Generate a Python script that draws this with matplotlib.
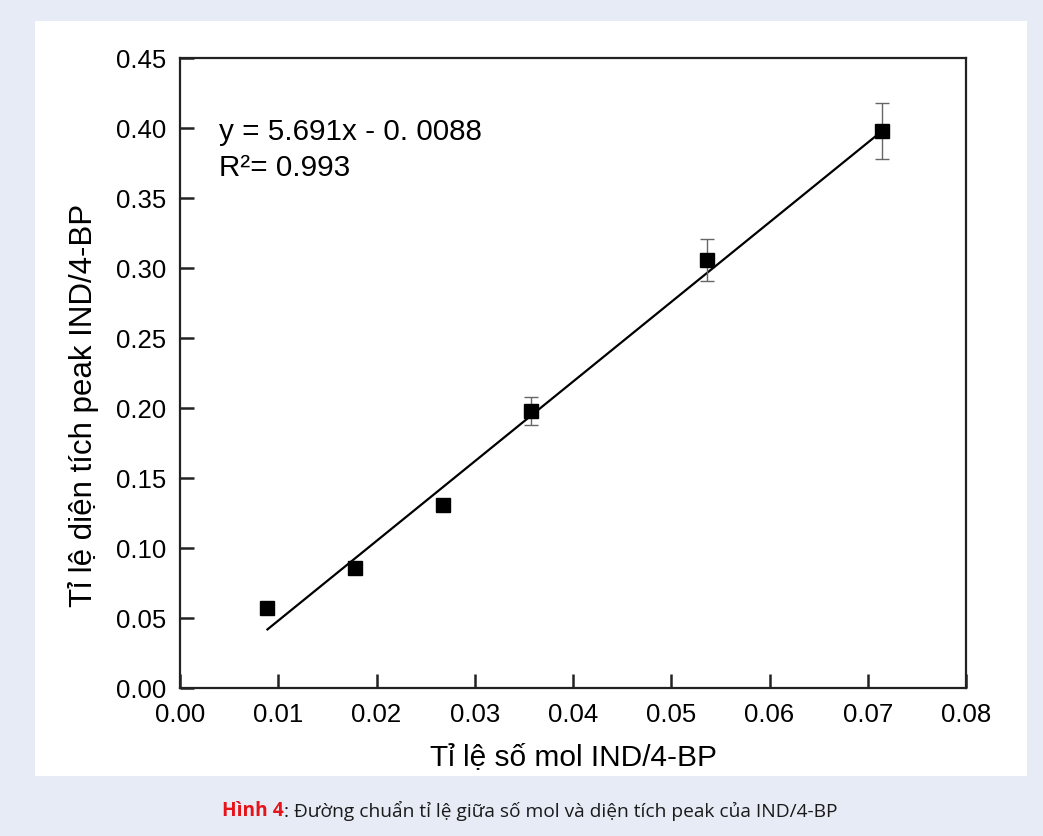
import matplotlib
matplotlib.use("Agg")
import matplotlib.pyplot as plt
from matplotlib.patches import Rectangle
import numpy as np

# Data
mol_ratio = [0.0089, 0.0178, 0.0268, 0.0357, 0.0536, 0.0715]
area_ratio = [0.057, 0.086, 0.131, 0.198, 0.306, 0.398]
area_err = [0.002, 0.003, 0.004, 0.010, 0.015, 0.020]
slope = 5.691
intercept = -0.0088
x_ticks = [0.00, 0.01, 0.02, 0.03, 0.04, 0.05, 0.06, 0.07, 0.08]
y_ticks = [0.00, 0.05, 0.10, 0.15, 0.20, 0.25, 0.30, 0.35, 0.40, 0.45]
eq_text = "y = 5.691x - 0. 0088"
r2_text = "R\u00b2= 0.993"
xlabel = "Tỉ lệ số mol IND/4-BP"
ylabel = "Tỉ lệ diện tích peak IND/4-BP"
cap_bold = "Hình 4"
cap_rest = ": Đường chuẩn tỉ lệ giữa số mol và diện tích peak của IND/4-BP"

plt.rcParams['font.family'] = ['Liberation Sans', 'DejaVu Sans']

W, H = 1043, 837
fig = plt.figure(figsize=(W / 100, H / 100), dpi=100)
fig.patch.set_facecolor('#e7ebf6')
fig.patches.append(Rectangle((35 / W, 1 - 777 / H), 992 / W, 755 / H,
                             transform=fig.transFigure, facecolor='white',
                             edgecolor='none', zorder=-5))

ax = fig.add_axes([180 / W, 1 - 689 / H, 786 / W, 630 / H])
ax.set_facecolor('white')

xs = np.array([mol_ratio[0], mol_ratio[-1]])
ax.plot(xs, slope * xs + intercept, color='black', lw=1.6, zorder=2)
ax.errorbar(mol_ratio, area_ratio, yerr=area_err, fmt='s', color='black',
            markersize=10, ecolor='#666666', elinewidth=1.0, capsize=5,
            capthick=1.0, zorder=3)

ax.set_xlim(0, 0.08)
ax.set_ylim(0, 0.45)
ax.set_xticks(x_ticks)
ax.set_xticklabels([f"{v:.2f}" for v in x_ticks])
ax.set_yticks(y_ticks)
ax.set_yticklabels([f"{v:.2f}" for v in y_ticks])
ax.tick_params(axis='both', which='major', direction='in', length=9,
               width=1.6, color='#222222', labelcolor='black',
               labelsize=18.5, top=False, right=False, pad=10)
for t in ax.xaxis.get_major_ticks() + ax.yaxis.get_major_ticks():
    t.tick1line.set_visible(True)
    t.tick1line.set_markeredgecolor('#222222')
    t.tick1line.set_markeredgewidth(1.8)
    t.tick1line.set_markersize(10)
for s in ax.spines.values():
    s.set_linewidth(1.6)
    s.set_color('#222222')

ax.set_xlabel(xlabel, fontsize=21.5, labelpad=12)
ax.set_ylabel(ylabel, fontsize=22.5, va='bottom')
ax.yaxis.set_label_coords(-0.1035, 0.45)

ax.text(0.0040, 0.398, eq_text, fontsize=21.3, va='center', ha='left')
ax.text(0.0040, 0.372, r2_text, fontsize=21.3, va='center', ha='left')

t1 = fig.text(222 / W, 1 - 811 / H, cap_bold, fontsize=13.8, color='#e5141b',
              fontweight='bold', va='center', ha='left',
              family=['Open Sans', 'DejaVu Sans'])
fig.canvas.draw()
fig.text(0, 0, cap_rest, fontsize=13.8, color='#1a1a1a', va='bottom', ha='left',
         family=['Open Sans', 'DejaVu Sans'])
bb = t1.get_window_extent()
fig.texts[-1].set_position((bb.x1 / W, bb.y0 / H))

fig.savefig('out.png', dpi=100, facecolor=fig.get_facecolor())
